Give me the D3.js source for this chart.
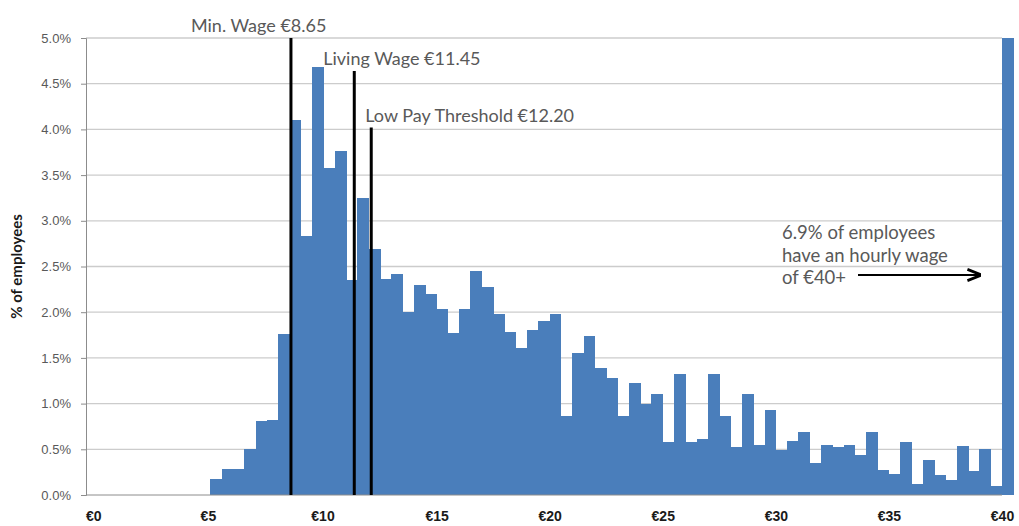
<!DOCTYPE html>
<html>
<head>
<meta charset="utf-8">
<script src="https://cdn.jsdelivr.net/npm/d3@7.9.0/dist/d3.min.js"></script>
<style>
  body { margin: 0; background: #fff; }
  svg { display: block; font-family: Lato, "Open Sans", sans-serif; }
</style>
</head>
<body>
<svg width="1019" height="526"></svg>
<script>
// hourly wage bins, half-euro wide, from €5 up to the €40+ bin
const binStarts = d3.range(5, 40.5, 0.5);
const shares = [
  0.18, 0.28, 0.28, 0.50, 0.81, 0.82, 1.76, 4.10, 2.83, 4.68,
  3.58, 3.76, 2.35, 3.25, 2.69, 2.36, 2.42, 2.00, 2.30, 2.20,
  2.03, 1.77, 2.03, 2.45, 2.28, 1.98, 1.78, 1.61, 1.81, 1.90,
  1.98, 0.86, 1.55, 1.74, 1.39, 1.28, 0.86, 1.22, 1.00, 1.10,
  0.58, 1.32, 0.58, 0.61, 1.32, 0.86, 0.53, 1.10, 0.55, 0.93,
  0.49, 0.59, 0.69, 0.35, 0.55, 0.53, 0.55, 0.44, 0.69, 0.27,
  0.23, 0.58, 0.12, 0.38, 0.22, 0.16, 0.54, 0.26, 0.50, 0.10,
  6.9
];
const yTicks = [0, 0.5, 1, 1.5, 2, 2.5, 3, 3.5, 4, 4.5, 5];
const xTicks = [0, 5, 10, 15, 20, 25, 30, 35, 40];

const thresholdNames = ['Min. Wage €8.65', 'Living Wage €11.45', 'Low Pay Threshold €12.20'];
const thresholdValues = [8.65, 11.45, 12.20];

let svg = d3.select('svg');
let x = d3.scaleLinear().domain([-0.5, 40]).range([86, 1002]);
let y = d3.scaleLinear().domain([0, 5]).range([495, 38]).clamp(true);

// gridlines
svg.append('g')
  .selectAll('line')
  .data(yTicks.slice(1))
  .join('line')
  .attr('x1', x(-0.5)).attr('x2', x(40))
  .attr('y1', d => y(d)).attr('y2', d => y(d))
  .attr('stroke', '#cccccc').attr('stroke-width', 1.3);

// bars
svg.append('g')
  .attr('shape-rendering', 'crispEdges')
  .selectAll('rect')
  .data(binStarts)
  .join('rect')
  .attr('x', d => x(d))
  .attr('width', d => x(d + 0.5) - x(d) + 0.5)
  .attr('y', (d, i) => y(shares[i]))
  .attr('height', (d, i) => y(0) - y(shares[i]))
  .attr('fill', '#4a7ebb');

// y axis
let yAxis = svg.append('g')
  .attr('transform', `translate(${x(-0.5)},0)`)
  .call(d3.axisLeft(y).tickValues(yTicks).tickSize(5).tickPadding(10)
    .tickFormat(d => d.toFixed(1) + '%'));
yAxis.select('.domain').attr('stroke', '#8c8c8c');
yAxis.selectAll('.tick line').attr('stroke', '#8c8c8c');
yAxis.selectAll('text').attr('fill', '#595959').attr('font-size', 13);

// x axis
let xAxis = svg.append('g')
  .attr('transform', `translate(0,${y(0)})`)
  .call(d3.axisBottom(x).tickValues(xTicks).tickSize(0).tickPadding(16)
    .tickFormat(d => '€' + d));
xAxis.select('.domain').attr('stroke', '#8c8c8c').attr('d', `M${x(-0.5)},0H${x(40)}`);
xAxis.selectAll('text')
  .attr('dx', d => Math.min(-4 + d * 0.3, 0))
  .attr('fill', '#1a1a1a').attr('font-size', 14).attr('font-weight', 'bold');

svg.append('text')
  .attr('transform', `translate(22,${(y(0) + y(5)) / 2}) rotate(-90)`)
  .attr('text-anchor', 'middle')
  .attr('font-size', 15).attr('font-weight', 'bold').attr('fill', '#1a1a1a')
  .text('% of employees');

// threshold lines and labels
const lineTops = [5.07, 4.64, 4.02];
const labelShift = [-102, -33, -8];
thresholdValues.forEach((v, i) => {
  svg.append('line')
    .attr('x1', x(v) - 2).attr('x2', x(v) - 2)
    .attr('y1', y(lineTops[i])).attr('y2', y(0))
    .attr('stroke', '#000').attr('stroke-width', 3);
  svg.append('text')
    .attr('x', x(v) + labelShift[i])
    .attr('y', y(lineTops[i]) - 6)
    .attr('font-size', 18).attr('fill', '#595959')
    .text(thresholdNames[i]);
});

// note about the top bin
const noteLines = ['6.9% of employees', 'have an hourly wage', 'of €40+'];
svg.append('g')
  .selectAll('text')
  .data(noteLines)
  .join('text')
  .attr('x', 782)
  .attr('y', (d, i) => 239 + i * 22.5)
  .attr('font-size', 18.5).attr('fill', '#595959')
  .text(d => d);

svg.append('defs').append('marker')
  .attr('id', 'arr').attr('viewBox', '0 0 10 10')
  .attr('refX', 9).attr('refY', 5)
  .attr('markerWidth', 7).attr('markerHeight', 7)
  .attr('orient', 'auto')
  .append('path').attr('d', 'M0,1 L10,5 L0,9').attr('fill', 'none')
  .attr('stroke', '#000').attr('stroke-width', 2);

svg.append('line')
  .attr('x1', 858).attr('x2', 980)
  .attr('y1', 275).attr('y2', 275)
  .attr('stroke', '#000').attr('stroke-width', 2)
  .attr('marker-end', 'url(#arr)');
</script>
</body>
</html>
